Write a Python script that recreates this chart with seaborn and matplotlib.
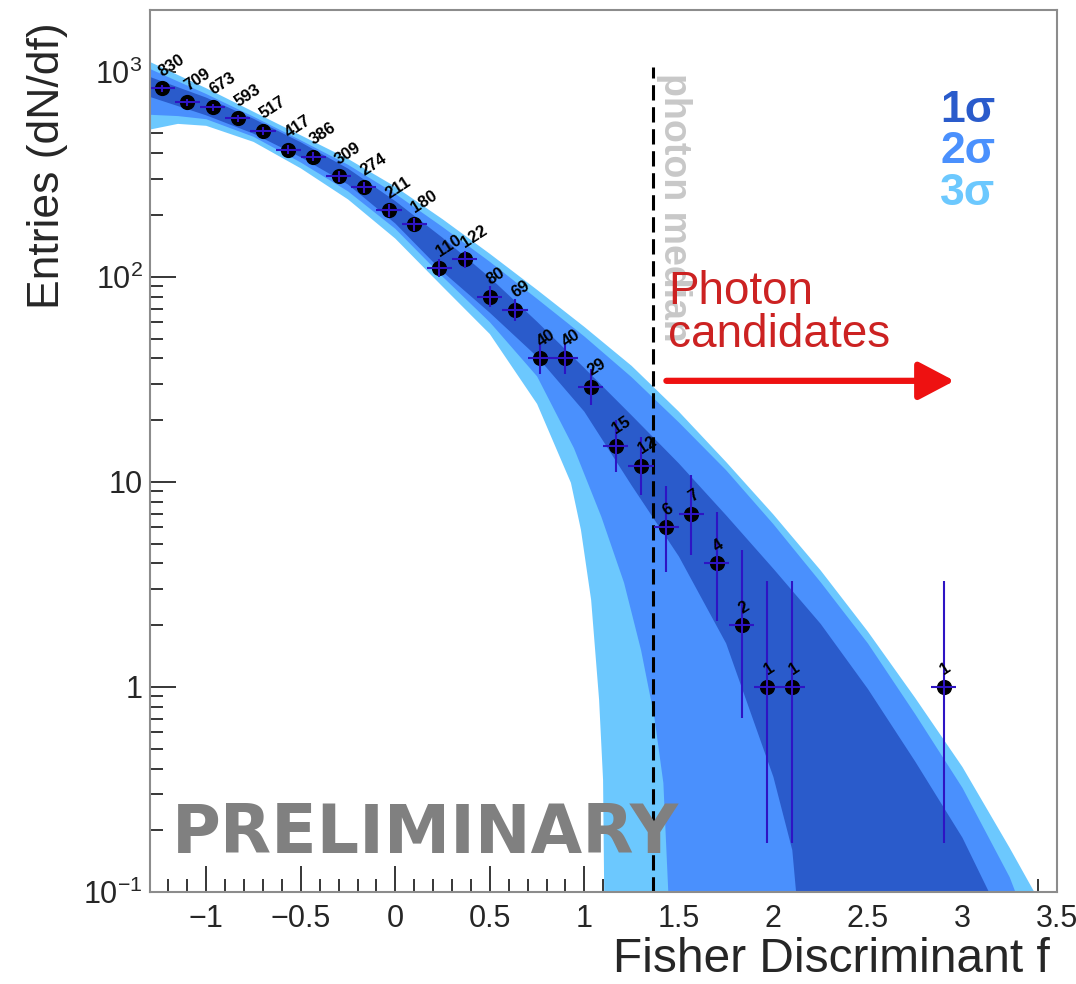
import math
import numpy as np
import matplotlib
matplotlib.use("Agg")
import matplotlib.pyplot as plt
import seaborn as sns
from matplotlib.ticker import FixedLocator, FixedFormatter, NullFormatter, LogLocator

# ---------------- data ----------------
bin_lo, bin_hi, n_bins = -1.3, 3.5, 36
counts = [830, 709, 673, 593, 517, 417, 386, 309, 274, 211, 180, 110, 122, 80, 69,
          40, 40, 29, 15, 12, 6, 7, 4, 2, 1, 1, 0, 0, 0, 0, 0, 1, 0, 0, 0, 0]

# band edges (x, dN/df)
x3_up = [-1.3, -1.0, -0.75, -0.5, -0.25, 0.0, 0.25, 0.5, 0.75, 1.0, 1.25, 1.5, 1.75, 2.0, 2.25, 2.5, 2.75, 3.0, 3.25, 3.38]
y3_up = [1119, 831, 638, 490, 376, 275, 191, 129.5, 86.4, 57.0, 36.8, 22.0, 12.5, 6.93, 3.70, 1.86, 0.884, 0.407, 0.164, 0.1]
x2_up = [-1.3, -1.0, -0.75, -0.5, -0.25, 0.0, 0.25, 0.5, 0.75, 1.0, 1.25, 1.5, 1.75, 2.0, 2.25, 2.5, 2.75, 3.0, 3.25, 3.28]
y2_up = [1034, 779, 604, 463, 352, 254, 175, 118.4, 78.1, 51.2, 32.4, 19.5, 11.4, 6.22, 3.24, 1.63, 0.737, 0.322, 0.118, 0.1]
x1_up = [-1.3, -1.0, -0.75, -0.5, -0.25, 0.0, 0.25, 0.5, 0.75, 1.0, 1.25, 1.5, 1.75, 2.0, 2.25, 2.5, 2.75, 3.0, 3.14]
y1_up = [945, 748, 590, 453, 337, 234, 155, 99.2, 60.4, 35.9, 21.1, 12.3, 6.87, 3.77, 2.03, 0.977, 0.433, 0.184, 0.1]
x1_lo = [-1.3, -1.0, -0.75, -0.5, -0.25, 0.0, 0.25, 0.5, 0.75, 1.0, 1.25, 1.5, 1.75, 2.0, 2.10, 2.12]
y1_lo = [755, 613, 499, 383, 282, 182, 106, 66.8, 40.8, 22.0, 9.61, 4.33, 1.63, 0.364, 0.160, 0.1]
x2_lo = [-1.3, -1.15, -1.0, -0.75, -0.5, -0.25, 0.0, 0.25, 0.5, 0.75, 0.945, 1.09, 1.21, 1.30, 1.37, 1.418, 1.444]
y2_lo = [617, 608, 587, 482, 361, 261, 171.5, 100.2, 60.1, 32.7, 14.6, 6.75, 3.22, 1.51, 0.714, 0.340, 0.1]
x3_lo = [-1.3, -1.15, -1.0, -0.75, -0.5, -0.25, 0.0, 0.25, 0.5, 0.75, 0.929, 0.982, 1.036, 1.078, 1.099, 1.105]
y3_lo = [522, 557, 545, 455, 338, 238.5, 153.6, 89.6, 52.6, 24.0, 9.89, 5.83, 2.65, 0.865, 0.352, 0.1]

photon_median = 1.365
x_ticks = [-1, -0.5, 0, 0.5, 1, 1.5, 2, 2.5, 3, 3.5]
x_ticklabels = ["\u22121", "\u22120.5", "0", "0.5", "1", "1.5", "2", "2.5", "3", "3.5"]
y_ticks = [0.1, 1, 10, 100, 1000]
y_ticklabels = ["10$^{-1}$", "1", "10", "10$^{2}$", "10$^{3}$"]
sigma_labels = ["1\u03c3", "2\u03c3", "3\u03c3"]

# ---------------- style ----------------
sns.set_theme(style="white")
plt.rcParams["font.family"] = ["Liberation Sans", "DejaVu Sans"]
plt.rcParams["mathtext.fontset"] = "custom"
plt.rcParams["mathtext.rm"] = "Liberation Sans"
plt.rcParams["mathtext.it"] = "Liberation Sans:italic"
plt.rcParams["mathtext.bf"] = "Liberation Sans:bold"

c1, c2, c3 = "#2A5BCB", "#4A90FD", "#6CC8FE"
err_col = "#2E14C4"


def pois_cdf(k, mu):
    if k < 0:
        return 0.0
    i = np.arange(k + 1)
    lg = np.array([math.lgamma(j + 1) for j in i])
    return float(np.exp(-mu + i * np.log(mu) - lg).sum())


def garwood(n, a=0.158655):
    if n == 0:
        lo = 0.0
    else:
        a_, b_ = 1e-9, float(n)
        for _ in range(80):
            m = 0.5 * (a_ + b_)
            if pois_cdf(n - 1, m) > 1 - a:
                a_ = m
            else:
                b_ = m
        lo = 0.5 * (a_ + b_)
    a_, b_ = float(n), n + 10 * math.sqrt(n + 1) + 10
    for _ in range(80):
        m = 0.5 * (a_ + b_)
        if pois_cdf(n, m) > a:
            a_ = m
        else:
            b_ = m
    hi = 0.5 * (a_ + b_)
    return lo, hi


bw = (bin_hi - bin_lo) / n_bins
centers = bin_lo + bw * (np.arange(n_bins) + 0.5)
cnt = np.array(counts)
sel = cnt > 0
xs, ys = centers[sel], cnt[sel]
ints = [garwood(int(n)) for n in ys]
err_lo = ys - np.array([i[0] for i in ints])
err_hi = np.array([i[1] for i in ints]) - ys

fig = plt.figure(figsize=(10.76, 9.84), dpi=100)
ax = fig.add_axes([0.139, 0.0935, 0.8433, 0.8963])
ax.set_yscale("log")
ax.set_xlim(bin_lo, bin_hi)
ax.set_ylim(0.1, 2000)

for xu, yu, xl, yl, col in [(x3_up, y3_up, x3_lo, y3_lo, c3),
                            (x2_up, y2_up, x2_lo, y2_lo, c2),
                            (x1_up, y1_up, x1_lo, y1_lo, c1)]:
    ax.fill(list(xu) + list(xl)[::-1], list(yu) + list(yl)[::-1], color=col, lw=0, zorder=1)

ax.plot([photon_median, photon_median], [0.1, 1050], color="black", lw=2.2,
        linestyle=(0, (5, 2.2)), zorder=3)
ax.text(photon_median + 0.012, 985, "photon median", rotation=270, color="#c8c8c8",
        fontsize=27, fontweight="bold", ha="left", va="top", zorder=3)

ax.text(-1.184, 0.155, "PRELIMINARY", family=["DejaVu Sans"], fontweight="bold",
        fontsize=48, color="#808080", ha="left", va="baseline", zorder=4)

sns.scatterplot(x=xs, y=ys, ax=ax, color="black", s=120, edgecolor="black",
                linewidth=0, zorder=5, legend=False)
ax.errorbar(xs, ys, xerr=bw / 2, yerr=[err_lo, err_hi], fmt="none", ecolor=err_col,
            elinewidth=1.5, capsize=0, zorder=6)
for x, y in zip(xs, ys):
    ax.annotate(str(int(y)), (x, y), xytext=(1.5, 6.5), textcoords="offset points",
                rotation=33, rotation_mode="anchor", ha="left", va="bottom",
                fontsize=12, fontweight="bold", color="black", zorder=7)

# arrow + text
ax.annotate("", xy=(2.958, 31.1), xytext=(1.434, 31.1),
            arrowprops=dict(arrowstyle="-|>,head_length=1.1,head_width=0.58",
                            color="#EE1111", lw=4.5, shrinkA=0, shrinkB=0,
                            mutation_scale=20), zorder=6)
fig.text(668 / 1076, 1 - 270 / 984, "Photon\ncandidates", color="#CC2222",
         fontsize=33, ha="left", va="top", linespacing=0.98)

for lab, col, base in zip(sigma_labels, [c1, c2, c3], [122, 163, 205]):
    fig.text(995 / 1076, 1 - base / 984, lab, color=col, fontsize=32,
             fontweight="bold", ha="right", va="baseline")

# axes / ticks
ax.xaxis.set_major_locator(FixedLocator(x_ticks))
ax.xaxis.set_major_formatter(FixedFormatter(x_ticklabels))
ax.xaxis.set_minor_locator(FixedLocator(np.round(np.arange(-13, 36) / 10, 1)))
ax.xaxis.set_minor_formatter(NullFormatter())
ax.yaxis.set_major_locator(FixedLocator(y_ticks))
ax.yaxis.set_major_formatter(FixedFormatter(y_ticklabels))
ax.yaxis.set_minor_locator(LogLocator(base=10, subs=range(2, 10)))
ax.yaxis.set_minor_formatter(NullFormatter())
ax.tick_params(axis="both", which="major", direction="in", length=19, width=1.1,
               color="black", labelsize=22, top=False, right=False,
               bottom=True, left=True)
ax.tick_params(axis="both", which="minor", direction="in", length=9.5, width=1.1,
               color="black", top=False, right=False, bottom=True, left=True)
ax.tick_params(axis="x", pad=9)
ax.tick_params(axis="y", pad=5)
for s in ax.spines.values():
    s.set_color("#8c8c8c")
    s.set_linewidth(1.5)
    s.set_zorder(8)

fig.text(47 / 1076, 1 - 22 / 984, "Entries (dN/df)", rotation=90, ha="center",
         va="top", fontsize=32)
fig.text(1050 / 1076, 1 - 972 / 984, "Fisher Discriminant f", ha="right",
         va="baseline", fontsize=34.5)

fig.savefig("out.png", dpi=100)
